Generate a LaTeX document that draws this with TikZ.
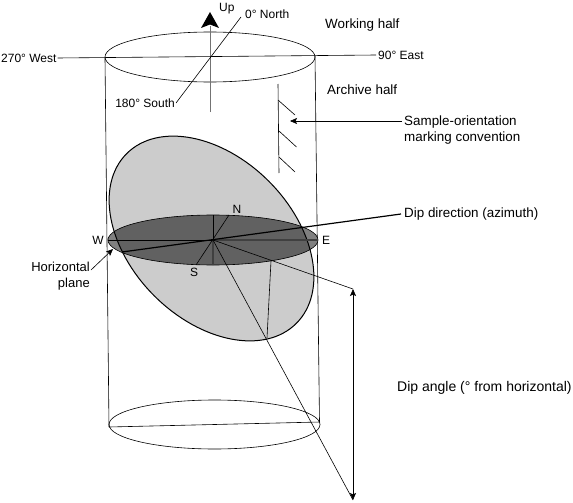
\documentclass[tikz,border=0pt]{standalone}
\usepackage{fontspec}
\setmainfont{Liberation Sans}
\usetikzlibrary{arrows.meta}
\tikzset{
  lbl/.style={inner sep=0pt,font=\fontsize{12}{14}\selectfont},
  big/.style={inner sep=0pt,font=\fontsize{13.4}{16}\selectfont},
  hair/.style={draw=black,line width=0.6pt},
  tip/.style={-{Stealth[length=7pt,width=6pt,inset=1.5pt]}},
  fat/.style={draw=black,line width=1.2pt},
  tilted/.style={shift={(211.5,238.5)},rotate=-45}
}
\begin{document}
\begin{tikzpicture}[x=1pt,y=-1pt]
\useasboundingbox (0,0) rectangle (573,503);
\fill[white] (0,0) rectangle (573,503);
% named points
\coordinate (c) at (213,240);
% cylinder
\draw[hair] (105,58) -- (109,427);
\draw[hair] (315,56) -- (319.5,422);
\draw[hair] (210,57) ellipse [x radius=105,y radius=25];
\draw[hair] (214.5,424.5) ellipse [x radius=105.5,y radius=24.5];
\draw[hair] (109,427) -- (320,422);
% top lines
\coordinate (upB) at (210,112);
\draw[draw=black!55,line width=0.8pt] (upB) -- (210,26);
\fill (210,12) -- (219,28) -- (210,24.5) -- (201,28) -- cycle;
\node[lbl,anchor=west] (up) at (219,9) {Up};
\node[lbl,anchor=west] (north) at (245,14) {0° North};
\node[lbl,anchor=east] (south) at (175,103) {180° South};
\node[lbl,anchor=west] (west) at (1,58) {270° West};
\node[lbl,anchor=west] (east) at (378,55) {90° East};
\draw[hair] (west.east) ++(1,0) -- ([xshift=-2pt]east.west);
\draw[hair] (241,17) -- (176,103);
\node[big,anchor=west] (work) at (325,25) {Working half};
\node[big,anchor=west] (arch) at (327,90) {Archive half};
% hatch
\draw[hair] (278,84) -- (279,173);
\draw[hair] (278,100) -- (295,115);
\draw[hair] (279,131) -- (296.5,147);
\draw[hair] (279,157) -- (295,172);
\node[big,anchor=west,align=left] (sample) at (404,130) {Sample-orientation\\marking convention};
\coordinate (mark) at (290,121);
\draw[hair,tip] (sample.west |- 0,121) ++(-2,0) -- (mark);
% tilted plane
\path[tilted,fill=black!20] (0,0) ellipse [x radius=120,y radius=81];
% horizontal plane
\fill[black!50] (c) ellipse [x radius=105,y radius=25];
\begin{scope}
\clip[tilted] (0,0) ellipse [x radius=120,y radius=81];
\fill[black!62] (c) ellipse [x radius=105,y radius=25];
\end{scope}
\draw[tilted,draw=black,line width=1pt] (0,0) ellipse [x radius=120,y radius=81];
\draw[hair] (c) ellipse [x radius=105,y radius=25];
\draw[hair] (108,240) -- (c);
\draw[draw=black!75,line width=1.1pt] (c) -- (318,240);
\draw[hair] (213,215) -- (c);
\draw[draw=black!75,line width=1.1pt] (c) -- (213,265);
\draw[hair] (229,215) -- (196,265);
% dip lines
\node[big,anchor=west] (dipdir) at (404,214) {Dip direction (azimuth)};
\coordinate (dipW) at (122,252);
\draw[fat] (dipW) -- ([xshift=-3pt]dipdir.west);
\coordinate (a) at (353,289);
\coordinate (b) at (353,500);
\coordinate (m) at (271,261);
\coordinate (e) at (267,338);
\draw[hair] (c) -- (a);
\draw[hair] (m) -- (e);
\draw[hair] (c) -- (b);
\draw[hair,{Stealth[length=7pt,width=6pt,inset=1.5pt]}-{Stealth[length=7pt,width=6pt,inset=1.5pt]}] (a) -- (b);
\node[inner sep=0pt,font=\fontsize{14}{16}\selectfont,anchor=west] (dipang) at (397,388) {Dip angle (° from horizontal)};
% compass
\node[lbl] (W) at (98,240) {W};
\node[lbl] (E) at (326,240) {E};
\node[lbl] (N) at (237,209) {N};
\node[lbl] (S) at (194,272) {S};
\node[inner sep=0pt,font=\fontsize{13}{16}\selectfont,align=right,anchor=east] (hp) at (90,276) {Horizontal\\plane};
\coordinate (hpT) at (113,249);
\draw[hair,tip] (91,270) -- (hpT);
\end{tikzpicture}
\end{document}
